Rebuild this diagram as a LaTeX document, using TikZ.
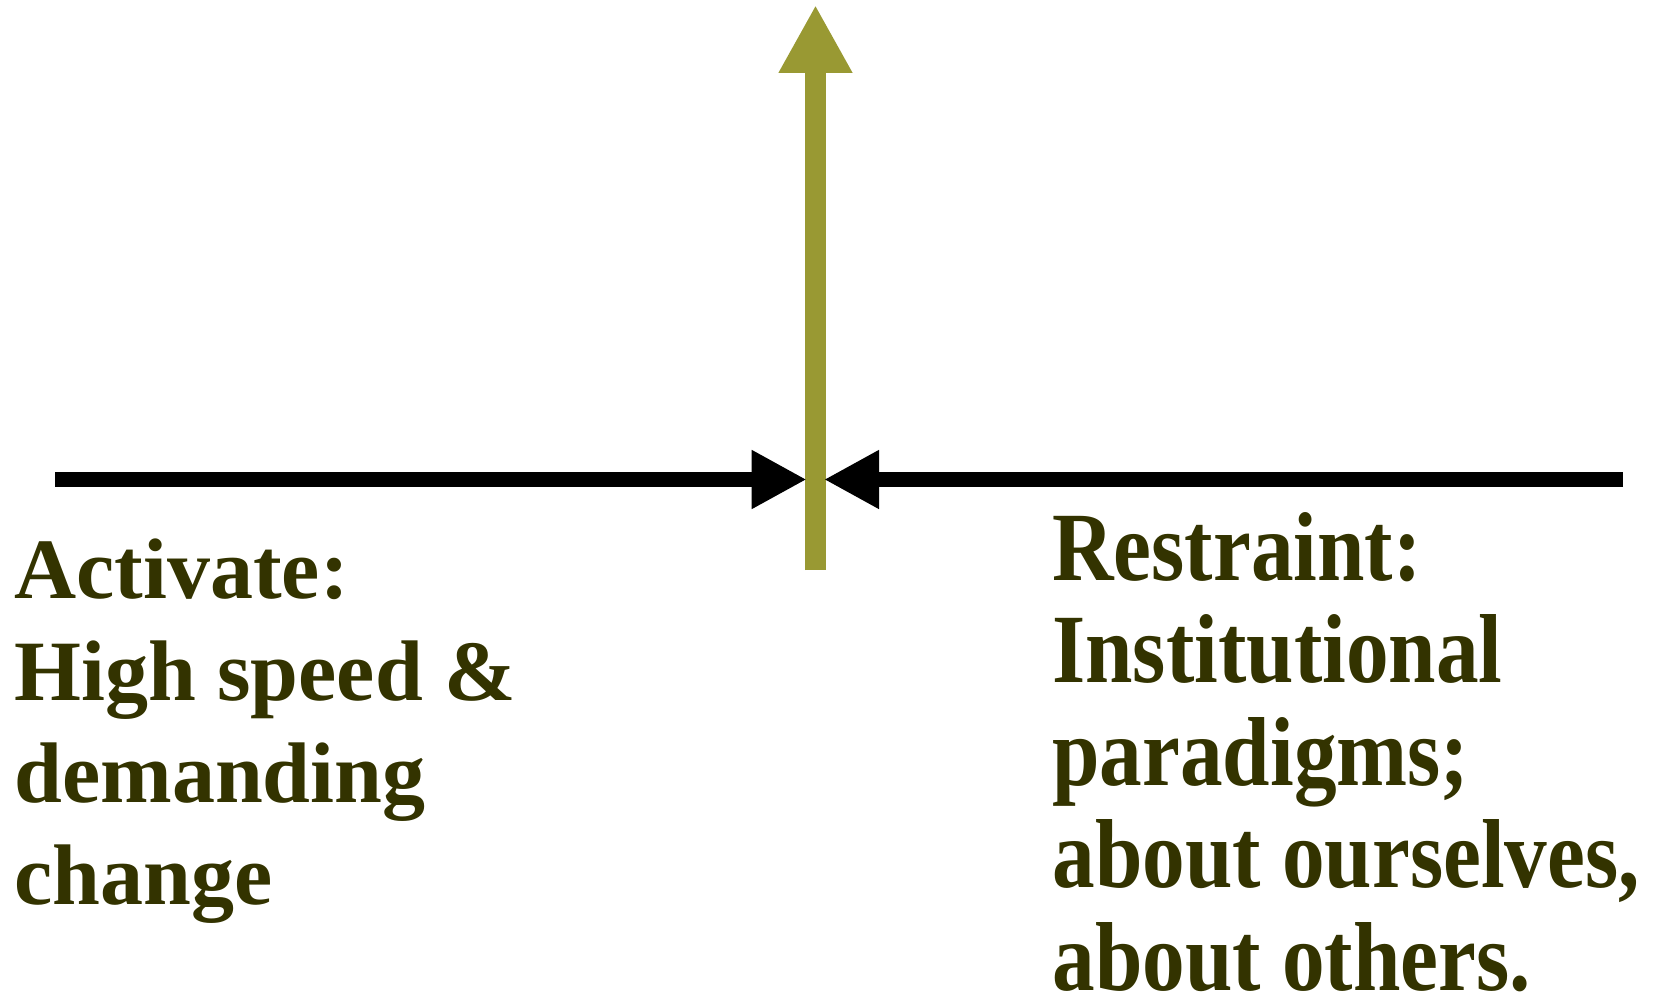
\documentclass[tikz,border=0pt]{standalone}
\usepackage{fontspec}
\setmainfont{Liberation Serif}
\newfontfamily\narrowserif[FakeStretch=0.87]{Liberation Serif}
\usetikzlibrary{arrows.meta}
\definecolor{olivebar}{HTML}{999933}
\definecolor{darkolive}{HTML}{333300}
\tikzset{
  axisline/.style={line width=7.5pt, black, -{Triangle[width=27.5pt,length=27.5pt]}},
  risearrow/.style={line width=10.5pt, olivebar, -{Triangle[width=34.5pt,length=34pt]}},
  leftlabel/.style={anchor=base west, inner sep=0pt, align=left, text=darkolive,
    font=\fontsize{43pt}{51pt}\selectfont\bfseries},
  rightlabel/.style={anchor=base west, inner sep=0pt, align=left, text=darkolive,
    font=\fontsize{49pt}{51.25pt}\selectfont\narrowserif\bfseries},
}
\begin{document}
\begin{tikzpicture}[x=0.5pt, y=-0.5pt]
  \useasboundingbox (0,0) rectangle (1658,994);
  % horizontal axis meeting at the centre
  \coordinate (axisL) at (55,479.5);
  \coordinate (axisR) at (1623,479.5);
  \coordinate (meetL) at (806.7,479.5);
  \coordinate (meetR) at (824,479.5);
  % vertical rising arrow
  \coordinate (riseBase) at (815.5,570);
  \coordinate (riseTip) at (815.5,5);
  \draw[risearrow] (riseBase) -- (riseTip);
  \draw[axisline] (axisL) -- (meetL);
  \draw[axisline] (axisR) -- (meetR);
  % labels (base anchor sits on the last line's baseline)
  \node[leftlabel] (activate) at (14,904) {Activate:\\High speed \&\\demanding\\change};
  \node[rightlabel] (restraint) at (1052,990) {Restraint:\\Institutional\\paradigms;\\about ourselves,\\about others.};
\end{tikzpicture}
\end{document}
